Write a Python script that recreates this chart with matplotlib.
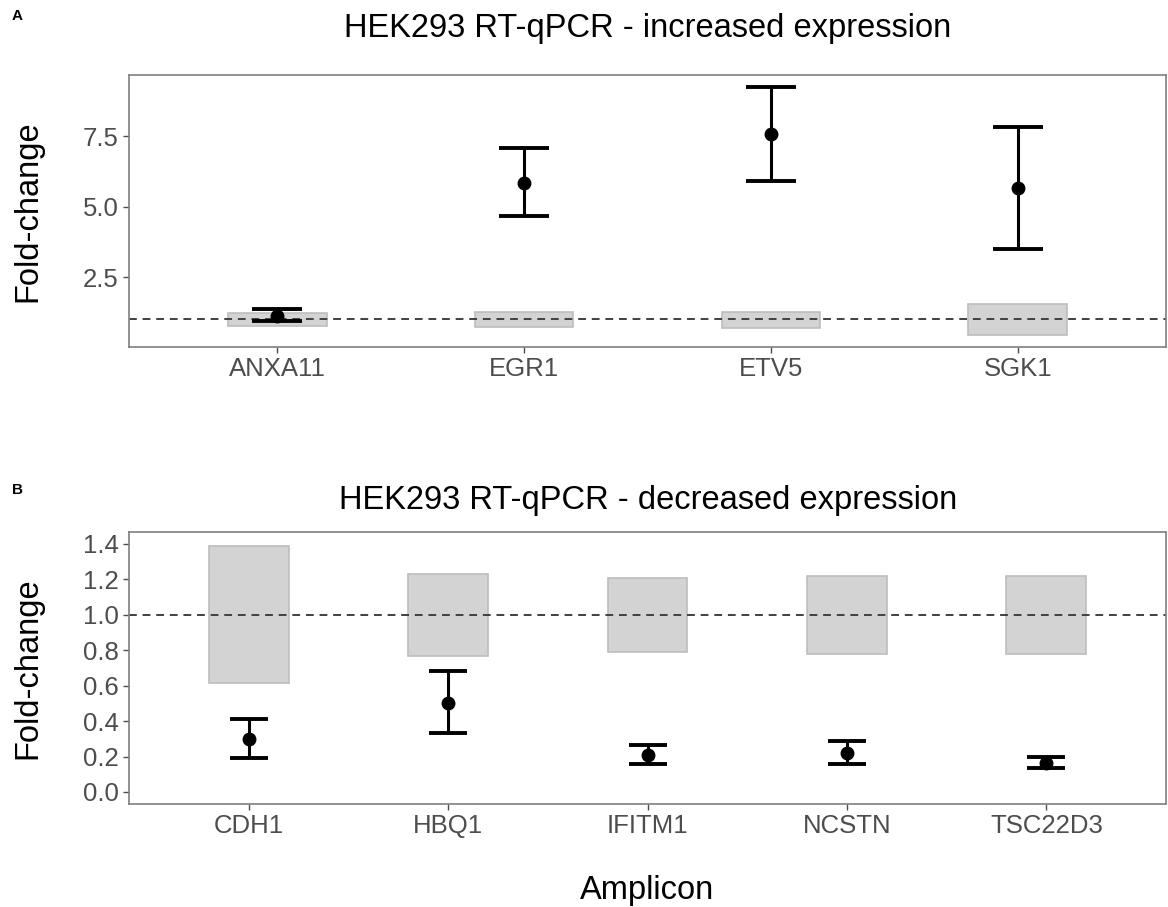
import numpy as np
import matplotlib
matplotlib.use("Agg")
import matplotlib.pyplot as plt
from matplotlib.patches import Rectangle

plt.rcParams['font.family'] = ['Liberation Sans', 'DejaVu Sans']

# panel A - increased expression
up_genes = ["ANXA11", "EGR1", "ETV5", "SGK1"]
up_mean = [1.13, 5.85, 7.57, 5.67]
up_lo = [0.95, 4.65, 5.92, 3.49]
up_hi = [1.37, 7.08, 9.23, 7.82]
up_ctrl_lo = [0.77, 0.74, 0.70, 0.46]
up_ctrl_hi = [1.23, 1.27, 1.27, 1.55]

# panel B - decreased expression
down_genes = ["CDH1", "HBQ1", "IFITM1", "NCSTN", "TSC22D3"]
down_mean = [0.30, 0.50, 0.21, 0.22, 0.166]
down_lo = [0.19, 0.33, 0.16, 0.16, 0.137]
down_hi = [0.41, 0.68, 0.265, 0.285, 0.196]
down_ctrl_lo = [0.617, 0.77, 0.79, 0.78, 0.78]
down_ctrl_hi = [1.39, 1.23, 1.21, 1.22, 1.22]

W, H = 1168, 907
fig = plt.figure(figsize=(W / 100, H / 100), dpi=100)


def panel(rect, genes, mean, lo, hi, clo, chi, ylim, yticks, ytlabels, cap):
    ax = fig.add_axes(rect)
    x = np.arange(1, len(genes) + 1)
    for xi, a, b in zip(x, clo, chi):
        ax.add_patch(Rectangle((xi - 0.2, a), 0.4, b - a, facecolor='#d3d3d3',
                               edgecolor='#bdbdbd', lw=1.2, zorder=1))
    ax.axhline(1.0, color='#404040', ls=(0, (4, 3)), lw=1.4, zorder=2)
    m = np.array(mean)
    ax.errorbar(x, m, yerr=[m - np.array(lo), np.array(hi) - m], fmt='o',
                color='black', ms=9, elinewidth=2.2, capsize=cap, capthick=2.8,
                zorder=3)
    ax.set_xlim(0.4, len(genes) + 0.6)
    ax.set_ylim(*ylim)
    ax.set_xticks(x)
    ax.set_xticklabels(genes)
    ax.set_yticks(yticks)
    ax.set_yticklabels(ytlabels)
    ax.tick_params(labelsize=18.5, labelcolor='#4d4d4d', color='#4d4d4d',
                   length=4, width=1)
    for s in ax.spines.values():
        s.set_color('#7f7f7f')
        s.set_linewidth(1.2)
    ax.set_ylabel("Fold-change", fontsize=23.5)
    ax.yaxis.set_label_coords(-0.083, 0.5)
    return ax


axA = panel([129 / W, 1 - 347 / H, 1037 / W, 272 / H], up_genes, up_mean, up_lo,
            up_hi, up_ctrl_lo, up_ctrl_hi, (0.02, 9.67), [2.5, 5.0, 7.5],
            ["2.5", "5.0", "7.5"], 18)
axB = panel([129 / W, 1 - 804 / H, 1037 / W, 272.5 / H], down_genes, down_mean,
            down_lo, down_hi, down_ctrl_lo, down_ctrl_hi, (-0.068, 1.47),
            np.arange(0, 1.41, 0.2), ["%.1f" % v for v in np.arange(0, 1.41, 0.2)], 14)
axB.set_xlabel("Amplicon", fontsize=23.5, labelpad=26)

fig.text(648 / W, 1 - 28 / H, "HEK293 RT-qPCR - increased expression",
         fontsize=23.5, ha='center', va='center')
fig.text(648 / W, 1 - 500 / H, "HEK293 RT-qPCR - decreased expression",
         fontsize=23.5, ha='center', va='center')
fig.text(12 / W, 1 - 16 / H, "A", fontsize=11, fontweight='bold', va='center')
fig.text(12 / W, 1 - 490 / H, "B", fontsize=11, fontweight='bold', va='center')

fig.savefig("out.png", dpi=100)
